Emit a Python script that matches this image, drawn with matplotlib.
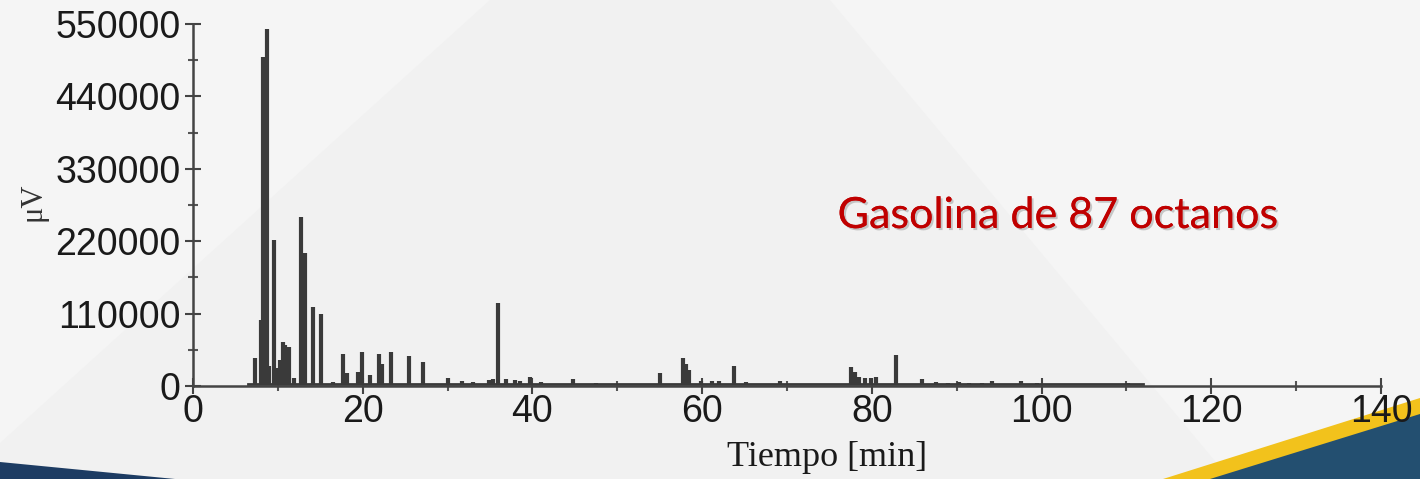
import numpy as np
import matplotlib.pyplot as plt
from matplotlib.patches import Polygon
from matplotlib.ticker import MultipleLocator
import matplotlib.patheffects as pe

# Chromatogram peaks (retention time in min, height in uV)
peak_times = [7.3, 8.0, 8.3, 8.7, 9.0, 9.5, 9.9, 10.2, 10.6, 10.9, 11.1, 11.35,
              11.9, 12.75, 13.2, 14.2, 15.1, 16.5, 17.7, 18.1, 19.5, 19.9, 20.9,
              21.9, 22.3, 23.3, 25.4, 27.1, 30.1, 31.7, 33.0, 34.9, 35.3, 36.0,
              36.9, 37.9, 38.5, 39.7, 41.0, 44.8, 47.5, 55.0, 57.7, 58.1, 58.5,
              59.9, 61.2, 62.0, 63.7, 65.2, 69.2, 77.6, 78.0, 78.5, 79.2, 79.9,
              80.5, 82.8, 85.9, 87.5, 89.0, 90.3, 91.5, 93.0, 94.1, 97.6, 99.5,
              103.0, 110.2]
peak_heights = [43000, 100000, 500000, 543000, 30000, 222000, 28000, 40000, 67000,
                62000, 60000, 60000, 12000, 257000, 202000, 120000, 110000, 6000,
                49000, 19000, 22000, 52000, 17000, 48000, 34000, 52000, 46000,
                37000, 12000, 8000, 6000, 9000, 10000, 126000, 10000, 9000, 8000,
                14000, 6000, 11000, 4000, 20000, 42000, 34000, 24000, 8000, 7000,
                8000, 30000, 6000, 7000, 29000, 21000, 14000, 12000, 12000, 14000,
                47000, 10000, 6000, 5000, 6000, 5000, 5000, 7000, 8000, 5000,
                3500, 5000]
baseline_range = [6.5, 112.0]
baseline_level = 2500

y_ticks = [0, 110000, 220000, 330000, 440000, 550000]
x_ticks = [0, 20, 40, 60, 80, 100, 120, 140]

W, H = 1420, 479


def px(x, y):
    return (x / W, 1 - y / H)


fig = plt.figure(figsize=(14.2, 4.79), dpi=100, facecolor='#f5f5f5')

# slide background shapes
bg_shapes = [
    ([(0, 443), (490, 0), (830, 0), (1230, 479), (0, 479)], '#f1f1f1'),
    ([(1163, 479), (1420, 398), (1420, 479)], '#f2c21c'),
    ([(1210, 479), (1420, 414), (1420, 479)], '#234f70'),
    ([(0, 462), (175, 479), (0, 479)], '#1d3c63'),
]
for pts, col in bg_shapes:
    fig.add_artist(Polygon([px(*p) for p in pts], closed=True, facecolor=col,
                           edgecolor='none', transform=fig.transFigure, zorder=-5))

ax = fig.add_axes([193 / W, 1 - 386 / H, (1381 - 193) / W, (386 - 24) / H])
ax.set_facecolor('none')

line_col = '#3a3a3a'
ax.plot(baseline_range, [baseline_level, baseline_level], color=line_col, lw=2)
ax.vlines(peak_times, baseline_level, peak_heights, color=line_col, lw=3)

ax.set_xlim(0, 140)
ax.set_ylim(0, 550000)
for s in ['top', 'right']:
    ax.spines[s].set_visible(False)
for s in ['left', 'bottom']:
    ax.spines[s].set_color('#444444')
    ax.spines[s].set_linewidth(1.8)

ax.set_xticks(x_ticks)
ax.set_yticks(y_ticks)
ax.xaxis.set_minor_locator(MultipleLocator(10))
ax.yaxis.set_minor_locator(MultipleLocator(55000))
ax.tick_params(which='major', direction='inout', length=12, width=1.5,
               color='#444444', labelsize=27, labelcolor='#1a1a1a')
ax.tick_params(which='minor', direction='inout', length=7, width=1.5, color='#555555')
ax.tick_params(axis='x', pad=0)
ax.tick_params(axis='y', pad=3)
for lab in ax.get_xticklabels() + ax.get_yticklabels():
    lab.set_family(['Liberation Sans', 'DejaVu Sans'])

fig.text(*px(33, 202), 'μV', rotation=90, ha='center', va='center',
         fontsize=22, family=['Liberation Serif', 'DejaVu Serif'], color='#333333')
fig.text(*px(827, 458), 'Tiempo [min]', ha='center', va='center',
         fontsize=26, family=['Liberation Serif', 'DejaVu Serif'], color='#1a1a1a')
fig.text(*px(1057, 216), 'Gasolina de 87 octanos', ha='center', va='center',
         fontsize=31, family=['Lato', 'DejaVu Sans'], color='#c00000',
         path_effects=[pe.withSimplePatchShadow(offset=(1.5, -1.5), shadow_rgbFace='#999999', alpha=0.5),
                       pe.Normal()])

fig.savefig('out.png', dpi=100, facecolor=fig.get_facecolor())
